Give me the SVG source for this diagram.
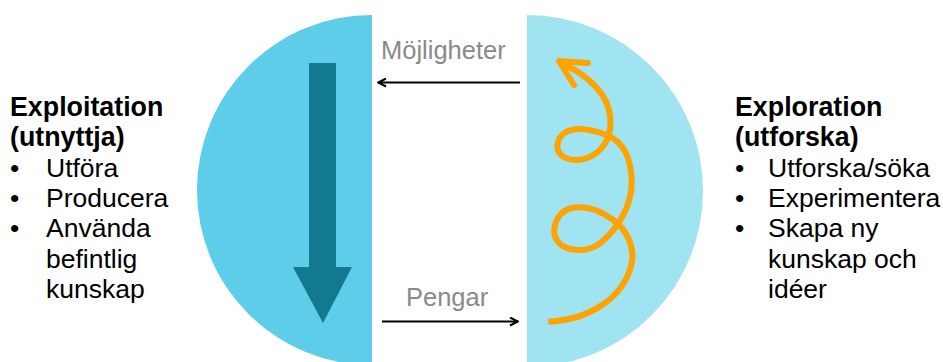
<svg xmlns="http://www.w3.org/2000/svg" width="943" height="362" viewBox="0 0 943 362">
<style>
  .t { font-family: "Liberation Sans", Arial, sans-serif; font-size: 26.5px; fill: #000; }
  .b { font-weight: bold; font-size: 26.8px; }
  .lbl { font-family: "Liberation Sans", Arial, sans-serif; font-size: 25.5px; fill: #8a8a8a; }
  .conn { stroke: #000; stroke-width: 2; fill: none; }
</style>
<defs>
  <marker id="ah" viewBox="0 0 10 10" refX="9" refY="5" markerWidth="10" markerHeight="10" markerUnits="userSpaceOnUse" orient="auto">
    <path d="M 1 1 L 9 5 L 1 9" fill="none" stroke="#000" stroke-width="2"/>
  </marker>
</defs>
<rect width="943" height="362" fill="#fff"/>
<g id="exploitation">
  <path d="M 372 15 A 175 175 0 0 0 372 365 Z" fill="#5ECDE9"/>
  <polygon points="309,63 336,63 336,267 352,267 323,323 293,267 309,267" fill="#137990"/>
  <text class="t b" x="10" y="116">Exploitation</text>
  <text class="t b" x="10" y="146">(utnyttja)</text>
  <text class="t" x="10" y="177">•</text><text class="t" x="46" y="177">Utföra</text>
  <text class="t" x="10" y="207">•</text><text class="t" x="46" y="207">Producera</text>
  <text class="t" x="10" y="237">•</text><text class="t" x="46" y="237">Använda</text>
  <text class="t" x="46" y="268">befintlig</text>
  <text class="t" x="46" y="298">kunskap</text>
</g>
<g id="exploration">
  <path d="M 527 15 A 176 176 0 0 1 527 367 Z" fill="#A0E3F1"/>
  <g fill="none" stroke="#FFA300" stroke-width="6" stroke-linecap="round" stroke-linejoin="round">
    <path d="M 548.3 321.7 C 586.7 320, 623.3 300, 631.7 263.3 C 635 246.7, 626.7 230, 613.3 220 C 600 210, 586.7 206.7, 576.7 207.3 C 556.7 208.3, 550 230, 556.7 240 C 563.3 251.7, 586.7 253.3, 600 243.3 C 616.7 230, 631.7 206.7, 631.7 183.3 C 631.7 156.7, 623.3 141.7, 606.7 135 C 593.3 130, 576.7 126.7, 566.7 131.7 C 555 138.3, 553.3 153.3, 566.7 158.3 C 580 163.3, 596.7 156.7, 605 143.3 C 613.3 130, 611.7 110, 603.3 96.7 C 595 83.3, 583.3 73.3, 562 63" stroke-linecap="butt"/>
    <path d="M 588 63 L 559 61 L 574 85"/>
  </g>
  <text class="t b" x="735" y="116">Exploration</text>
  <text class="t b" x="735" y="146">(utforska)</text>
  <text class="t" x="735" y="177">•</text><text class="t" x="768" y="177">Utforska/söka</text>
  <text class="t" x="735" y="207">•</text><text class="t" x="768" y="207">Experimentera</text>
  <text class="t" x="735" y="237">•</text><text class="t" x="768" y="237">Skapa ny</text>
  <text class="t" x="768" y="268">kunskap och</text>
  <text class="t" x="768" y="298">idéer</text>
</g>
<g id="connectors">
  <line class="conn" x1="520" y1="82.5" x2="378" y2="82.5" marker-end="url(#ah)"/>
  <text class="lbl" x="381" y="59">Möjligheter</text>
  <line class="conn" x1="382" y1="321.5" x2="518" y2="321.5" marker-end="url(#ah)"/>
  <text class="lbl" x="406" y="306">Pengar</text>
</g>
</svg>
